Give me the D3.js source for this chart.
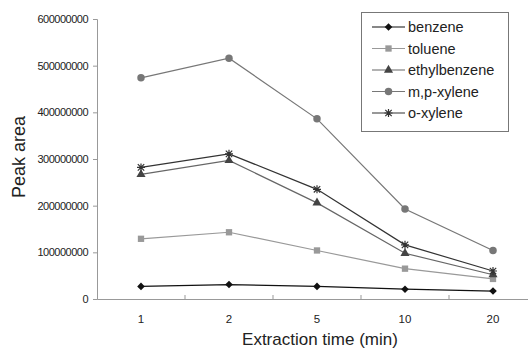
<!DOCTYPE html>
<html>
<head>
<meta charset="utf-8">
<script src="https://cdn.jsdelivr.net/npm/d3@7"></script>
<style>
body { margin: 0; background: #fff; }
text { font-family: "Liberation Sans", Arial, sans-serif; fill: #222; }
</style>
</head>
<body>
<div id="chart"></div>
<script>
var width = 528, height = 348;

var times = ["1", "2", "5", "10", "20"];
var yTicks = [0, 100000000, 200000000, 300000000, 400000000, 500000000, 600000000];

var benzene      = [27e6, 31e6, 27e6, 21e6, 17e6];
var toluene      = [129e6, 143e6, 104e6, 65e6, 43e6];
var ethylbenzene = [267e6, 297e6, 206e6, 98e6, 52e6];
var mpXylene     = [474e6, 516e6, 386e6, 193e6, 104e6];
var oXylene      = [282e6, 311e6, 235e6, 116e6, 60e6];

var series = [
  {name: "benzene", values: benzene, color: "#111", line: "#111", shape: "diamond"},
  {name: "toluene", values: toluene, color: "#999", line: "#999", shape: "square"},
  {name: "ethylbenzene", values: ethylbenzene, color: "#444", line: "#666", shape: "triangle"},
  {name: "m,p-xylene", values: mpXylene, color: "#777", line: "#777", shape: "circle"},
  {name: "o-xylene", values: oXylene, color: "#333", line: "#333", shape: "star"}
];

var svg = d3.select("#chart").append("svg")
  .attr("width", width).attr("height", height);

var x = d3.scaleBand().domain(times).range([97, 537]);
var y = d3.scaleLinear().domain([0, 600000000]).range([299, 19]);

// y axis
var yAxis = svg.append("g").attr("transform", "translate(97,0)")
  .call(d3.axisLeft(y).tickValues(yTicks).tickSize(4).tickPadding(5).tickFormat(d3.format("d")));
yAxis.selectAll("path, line").attr("stroke", "#999");
yAxis.selectAll("text").attr("font-size", 11).style("letter-spacing", "-0.5px").attr("fill", "#222");

// x axis
var xAxis = svg.append("g").attr("transform", "translate(0,299)")
  .call(d3.axisBottom(x).tickSize(0).tickPadding(16));
xAxis.select(".domain").attr("stroke", "#999");
xAxis.selectAll("text").attr("font-size", 11.5).attr("fill", "#222");
xAxis.selectAll(".bnd").data(times.slice(1)).enter().append("line")
  .attr("x1", function(d) { return x(d); }).attr("x2", function(d) { return x(d); })
  .attr("y1", 0).attr("y2", -4).attr("stroke", "#999");

// axis titles
svg.append("text").attr("transform", "translate(25,157) rotate(-90)")
  .attr("text-anchor", "middle").attr("font-size", 18).text("Peak area");
svg.append("text").attr("x", 320).attr("y", 345)
  .attr("text-anchor", "middle").attr("font-size", 17).text("Extraction time (min)");

var symbols = {
  square: d3.symbol().type(d3.symbolSquare).size(40),
  triangle: d3.symbol().type(d3.symbolTriangle).size(36),
  circle: d3.symbol().type(d3.symbolCircle).size(44)
};

function drawMarker(g, s, cx, cy) {
  if (s.shape === "star") {
    var r = 4;
    g.append("path")
      .attr("d", "M" + (cx - r) + "," + cy + "H" + (cx + r) +
        "M" + (cx - r * 0.8) + "," + (cy - r * 0.8) + "L" + (cx + r * 0.8) + "," + (cy + r * 0.8) +
        "M" + (cx - r * 0.8) + "," + (cy + r * 0.8) + "L" + (cx + r * 0.8) + "," + (cy - r * 0.8) +
        "M" + cx + "," + (cy - r) + "V" + (cy + r))
      .attr("stroke", s.color).attr("stroke-width", 1.2).attr("fill", "none");
  } else if (s.shape === "diamond") {
    var d = 3.8;
    g.append("path")
      .attr("d", "M" + cx + "," + (cy - d) + "L" + (cx + d) + "," + cy + "L" + cx + "," + (cy + d) + "L" + (cx - d) + "," + cy + "Z")
      .attr("fill", s.color);
  } else {
    g.append("path").attr("d", symbols[s.shape]())
      .attr("transform", "translate(" + cx + "," + cy + ")")
      .attr("fill", s.color);
  }
}

var line = d3.line()
  .x(function(d, i) { return x(times[i]) + x.bandwidth() / 2; })
  .y(function(d) { return y(d); });

series.forEach(function(s) {
  var g = svg.append("g");
  g.append("path").attr("d", line(s.values))
    .attr("fill", "none").attr("stroke", s.line).attr("stroke-width", 1.2);
  s.values.forEach(function(v, i) {
    drawMarker(g, s, x(times[i]) + x.bandwidth() / 2, y(v));
  });
});

// legend
var legend = svg.append("g");
legend.append("rect").attr("x", 361.5).attr("y", 12.5).attr("width", 147).attr("height", 119)
  .attr("fill", "#fff").attr("stroke", "#777");
series.forEach(function(s, i) {
  var ly = 27 + i * 21.5;
  var g = legend.append("g");
  g.append("line").attr("x1", 372).attr("x2", 405).attr("y1", ly).attr("y2", ly)
    .attr("stroke", s.line).attr("stroke-width", 1.2);
  drawMarker(g, s, 388.5, ly);
  g.append("text").attr("x", 408).attr("y", ly + 5).attr("font-size", 14.5).text(s.name);
});
</script>
</body>
</html>
